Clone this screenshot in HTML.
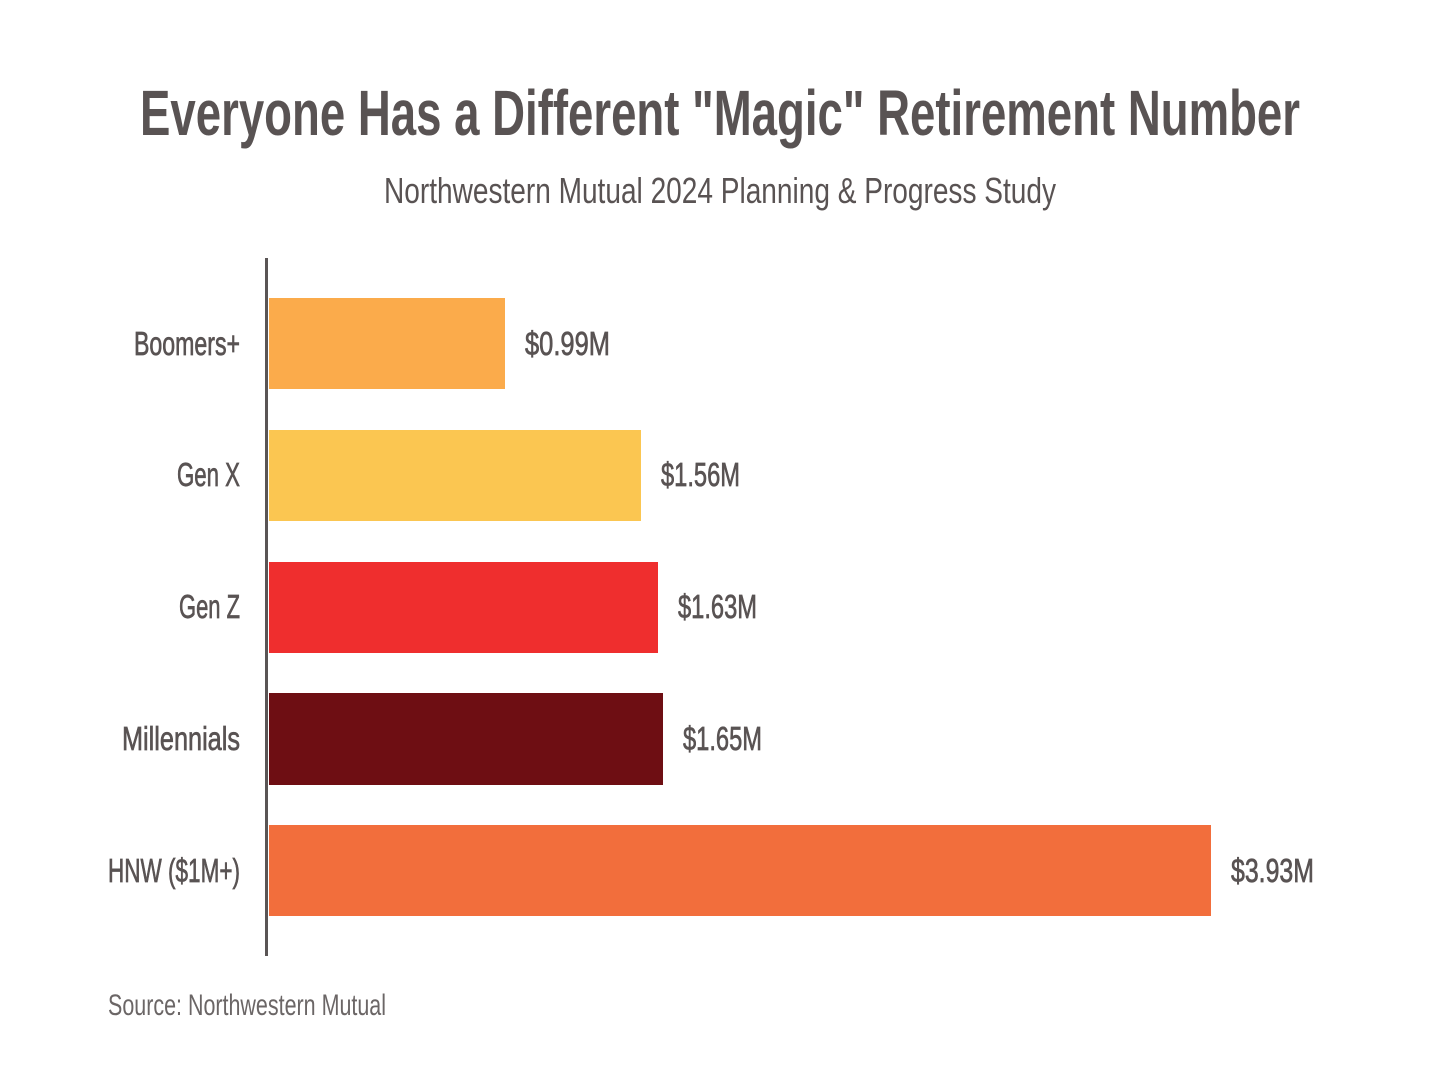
<!DOCTYPE html>
<html><head><meta charset="utf-8"><style>
html,body{margin:0;padding:0;background:#fff;}
svg{display:block;}
text{font-family:"Liberation Sans",sans-serif;fill:#595353;}
.m{stroke:#595353;stroke-width:0.7;}
</style></head><body>
<svg width="1440" height="1080" viewBox="0 0 1440 1080">
<text x="140" y="135" font-size="64" font-weight="bold" textLength="1160" lengthAdjust="spacingAndGlyphs">Everyone Has a Different "Magic" Retirement Number</text>
<text x="384" y="203" font-size="36" textLength="672" lengthAdjust="spacingAndGlyphs">Northwestern Mutual 2024 Planning &amp; Progress Study</text>
<rect x="265" y="258" width="3" height="698" fill="#5a5555"/>
<rect x="269" y="298" width="236" height="91" fill="#fbab4b"/>
<rect x="269" y="430" width="372" height="91" fill="#fbc651"/>
<rect x="269" y="562" width="389" height="91" fill="#ef2e2e"/>
<rect x="269" y="693" width="394" height="92" fill="#6e0e13"/>
<rect x="269" y="825" width="942" height="91" fill="#f26e3c"/>
<g font-size="33" class="m">
<text x="134" y="355" textLength="106" lengthAdjust="spacingAndGlyphs">Boomers+</text>
<text x="177" y="486" textLength="63" lengthAdjust="spacingAndGlyphs">Gen X</text>
<text x="179" y="618" textLength="61" lengthAdjust="spacingAndGlyphs">Gen Z</text>
<text x="122" y="750" textLength="118" lengthAdjust="spacingAndGlyphs">Millennials</text>
<text x="108" y="882" textLength="132" lengthAdjust="spacingAndGlyphs">HNW ($1M+)</text>
<text x="525" y="355" textLength="85" lengthAdjust="spacingAndGlyphs">$0.99M</text>
<text x="661" y="486" textLength="79" lengthAdjust="spacingAndGlyphs">$1.56M</text>
<text x="678" y="618" textLength="79" lengthAdjust="spacingAndGlyphs">$1.63M</text>
<text x="683" y="750" textLength="79" lengthAdjust="spacingAndGlyphs">$1.65M</text>
<text x="1231" y="882" textLength="83" lengthAdjust="spacingAndGlyphs">$3.93M</text>
</g>
<text x="108" y="1015" font-size="30" style="fill:#6b6666" textLength="278" lengthAdjust="spacingAndGlyphs">Source: Northwestern Mutual</text>
</svg>
</body></html>
